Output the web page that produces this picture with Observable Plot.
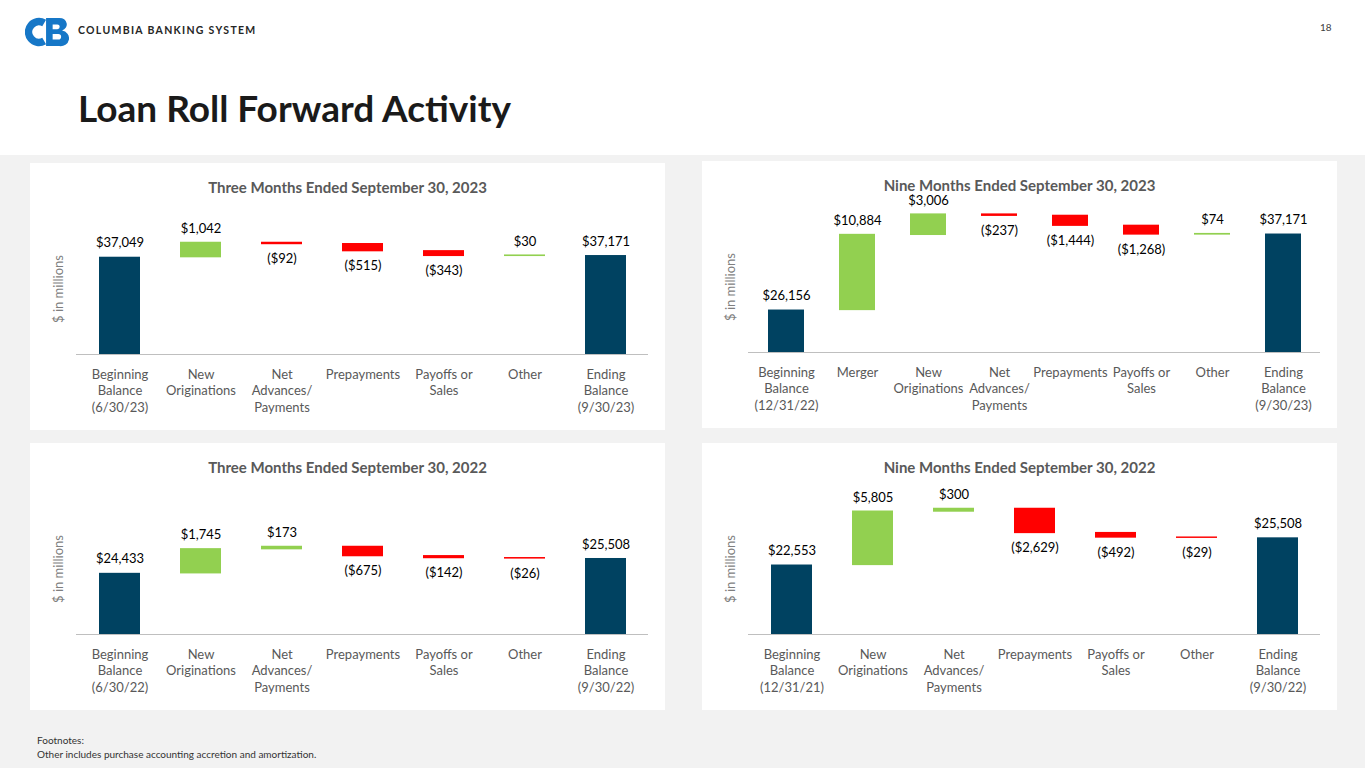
<!DOCTYPE html>
<html><head><meta charset="utf-8">
<script src="https://cdn.jsdelivr.net/npm/d3@7"></script>
<script src="https://cdn.jsdelivr.net/npm/@observablehq/plot@0.6"></script>
<style>
body{margin:0;width:1365px;height:768px;background:#f2f2f2;font-family:Lato,'Liberation Sans',sans-serif;position:relative;overflow:hidden}
#header{position:absolute;left:0;top:0;width:1365px;height:155px;background:#fff}
#brand{position:absolute;left:78px;top:24px;font-size:10.5px;font-weight:700;letter-spacing:1.3px;color:#262626}
#pnum{position:absolute;left:1320px;top:21px;font-size:10px;color:#404040}
#title{position:absolute;left:78px;top:85px;font-size:37px;font-weight:700;color:#1a1a1a}
.panel{position:absolute;background:#fff;width:635px;height:267px}
.ptitle{position:absolute;left:0;width:100%;top:15px;text-align:center;font-weight:700;font-size:15px;color:#595959}
.ylab{position:absolute;font-size:13px;color:#7f7f7f;transform:translate(-50%,-50%) rotate(-90deg);white-space:nowrap}
.chart{position:absolute;left:0;top:0}
#foot{position:absolute;left:37px;top:733px;font-size:10px;line-height:14px;color:#333}
</style></head>
<body>
<div id="header">
  <svg style="position:absolute;left:25px;top:16px" width="44" height="32" viewBox="0 0 46 34">
    <path d="M20 7.5 A11 11 0 1 0 20 26.5" fill="none" stroke="#1677c7" stroke-width="8"/>
    <path d="M22 2 H36 A8 7 0 0 1 39 15.5 A8.5 8 0 0 1 36 32 H22 Z M29 9 V14 H34 A2.5 2.5 0 0 0 34 9 Z M29 19 V25 H35 A3 3 0 0 0 35 19 Z" fill="#1677c7" fill-rule="evenodd"/>
  </svg>
  <div id="brand">COLUMBIA BANKING SYSTEM</div>
  <div id="pnum">18</div>
  <div id="title">Loan Roll Forward Activity</div>
</div>
<div id="foot">Footnotes:<br>Other includes purchase accounting accretion and amortization.</div>
<script>
// ---- data ----
const cats3m23 = ["Beginning\nBalance\n(6/30/23)","New\nOriginations","Net\nAdvances/\nPayments","Prepayments","Payoffs or\nSales","Other","Ending\nBalance\n(9/30/23)"];
const start3m23 = 37049;
const deltas3m23 = [1042, -92, -515, -343, 30];
const end3m23 = 37171;

const cats9m23 = ["Beginning\nBalance\n(12/31/22)","Merger","New\nOriginations","Net\nAdvances/\nPayments","Prepayments","Payoffs or\nSales","Other","Ending\nBalance\n(9/30/23)"];
const start9m23 = 26156;
const deltas9m23 = [10884, 3006, -237, -1444, -1268, 74];
const end9m23 = 37171;

const cats3m22 = ["Beginning\nBalance\n(6/30/22)","New\nOriginations","Net\nAdvances/\nPayments","Prepayments","Payoffs or\nSales","Other","Ending\nBalance\n(9/30/22)"];
const start3m22 = 24433;
const deltas3m22 = [1745, 173, -675, -142, -26];
const end3m22 = 25508;

const cats9m22 = ["Beginning\nBalance\n(12/31/21)","New\nOriginations","Net\nAdvances/\nPayments","Prepayments","Payoffs or\nSales","Other","Ending\nBalance\n(9/30/22)"];
const start9m22 = 22553;
const deltas9m22 = [5805, 300, -2629, -492, -29];
const end9m22 = 25508;

const panels = [
  {title:"Three Months Ended September 30, 2023", cats:cats3m23, start:start3m23, deltas:deltas3m23, end:end3m23, domain:[30000,40000], left:30, top:163},
  {title:"Nine Months Ended September 30, 2023", cats:cats9m23, start:start9m23, deltas:deltas9m23, end:end9m23, domain:[20000,40000], left:702, top:161},
  {title:"Three Months Ended September 30, 2022", cats:cats3m22, start:start3m22, deltas:deltas3m22, end:end3m22, domain:[20000,30000], left:30, top:443},
  {title:"Nine Months Ended September 30, 2022", cats:cats9m22, start:start9m22, deltas:deltas9m22, end:end9m22, domain:[15000,30000], left:702, top:443}
];

const colors = {total:"#004261", up:"#92d050", down:"#ff0000"};
const fmt = d3.format(",");
const label = v => v < 0 ? "($" + fmt(-v) + ")" : "$" + fmt(v);

for (const p of panels) {
  const rows = [];
  let cum = p.start;
  rows.push({cat:p.cats[0], y1:0, y2:p.start, kind:"total", v:p.start});
  p.deltas.forEach((d,i) => {
    rows.push({cat:p.cats[i+1], y1:cum, y2:cum+d, kind:d>=0?"up":"down", v:d});
    cum += d;
  });
  rows.push({cat:p.cats[p.cats.length-1], y1:0, y2:p.end, kind:"total", v:p.end});
  const totals = rows.filter(r => r.kind === "total");
  const deltas = rows.filter(r => r.kind !== "total");
  const above = rows.filter(r => r.kind !== "down");
  const below = rows.filter(r => r.kind === "down");

  const panel = document.createElement("div");
  panel.className = "panel";
  panel.style.left = p.left + "px";
  panel.style.top = p.top + "px";
  document.body.appendChild(panel);

  const t = document.createElement("div");
  t.className = "ptitle"; t.textContent = p.title;
  panel.appendChild(t);

  const yl = document.createElement("div");
  yl.className = "ylab"; yl.textContent = "$ in millions";
  yl.style.left = "28px"; yl.style.top = "126px";
  panel.appendChild(yl);

  const chart = Plot.plot({
    width: 635, height: 267,
    marginTop: 53, marginBottom: 76, marginLeft: 46, marginRight: 17,
    style: {fontFamily: "Lato, 'Liberation Sans', sans-serif", fontSize: "13px", background: "transparent", overflow: "visible"},
    x: {domain: p.cats, paddingInner: 0.5, paddingOuter: 0.25, axis: null, label: null},
    y: {domain: p.domain, clamp: true, axis: null},
    marks: [
      Plot.rectY(totals, {x:"cat", y1:"y1", y2:"y2", fill: d => colors[d.kind]}),
      Plot.rectY(deltas, {x:"cat", y1:"y1", y2:"y2", fill: d => colors[d.kind], insetTop:-0.6, insetBottom:-0.6}),
      Plot.ruleY([p.domain[0]], {stroke:"#bfbfbf", strokeWidth:1.2}),
      Plot.axisX({tickSize:0, tickPadding:12, fontSize:13, fill:"#595959", lineHeight:1.3, label:null, tickFormat: d => d}),
      Plot.text(above, {x:"cat", y: d => Math.max(d.y1, d.y2), dy:-14, text: d => label(d.v), fill:"#000", fontSize:13}),
      Plot.text(below, {x:"cat", y: d => Math.min(d.y1, d.y2), dy:15, text: d => label(d.v), fill:"#000", fontSize:13})
    ]
  });
  chart.classList.add("chart");
  panel.appendChild(chart);
}
</script>
</body></html>
